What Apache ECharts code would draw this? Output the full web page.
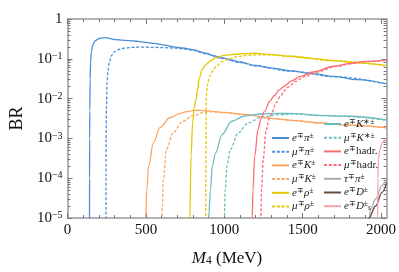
<!DOCTYPE html>
<html><head><meta charset="utf-8">
<script src="https://cdn.jsdelivr.net/npm/echarts@6/dist/echarts.min.js"></script>
<style>html,body{margin:0;padding:0;background:#fff}#c{width:399px;height:272px}</style>
</head><body><div id="c"></div>
<script>
// ---- axis ticks ----
const xTicks = [0, 500, 1000, 1500, 2000];
const xMinorTicks = [100,200,300,400,600,700,800,900,1100,1200,1300,1400,1600,1700,1800,1900];
const yTicks = [1e-5, 1e-4, 1e-3, 1e-2, 1e-1, 1];
const yTickLabels = ['10{e|−5}', '10{e|−4}', '10{e|−3}', '10{e|−2}', '10{e|−1}', '1'];
const yMinorTicks = [];
for (let k = -5; k < 0; k++) for (let m = 2; m <= 9; m++) yMinorTicks.push(m * Math.pow(10, k));

// ---- series data: [M4 (MeV), BR] ----
const ePi = [[140,1e-6],[140.5,1e-4],[141,1e-3],[142,5e-3],[144,0.03],[147,0.08],[152,0.15],[160,0.22],[175,0.28],[195,0.315],[220,0.335],[240,0.34],[260,0.33],[300,0.305],[360,0.29],[424,0.28],[500,0.26],[548,0.245],[620,0.22],[673,0.2],[735,0.187],[800,0.17],[850,0.15],[879,0.138],[930,0.12],[985,0.105],[1050,0.092],[1100,0.083],[1200,0.068],[1300,0.058],[1423,0.05],[1550,0.043],[1700,0.036],[1850,0.03],[2035,0.0235]];
const muPi = [[245,1e-6],[245.5,1e-4],[246,1e-3],[248,6e-3],[252,0.025],[258,0.05],[266,0.08],[280,0.12],[298,0.15],[320,0.17],[360,0.185],[420,0.195],[485,0.196],[548,0.194],[620,0.19],[673,0.186],[735,0.179],[800,0.164],[879,0.134],[985,0.102],[1100,0.081],[1200,0.066],[1423,0.049],[1700,0.0355],[2035,0.0232]];
const eK = [[494,1e-7],[498,1e-5],[506,5.3e-5],[517,2e-4],[548,7.8e-4],[590,1.86e-3],[652,3.3e-3],[715,4.2e-3],[760,4.7e-3],[798,5e-3],[830,5.1e-3],[870,5e-3],[922,4.8e-3],[1000,4.5e-3],[1129,4e-3],[1300,3.2e-3],[1450,2.8e-3],[1610,2.45e-3],[1800,2.15e-3],[2035,1.85e-3]];
const muK = [[599,1e-7],[602,1e-5],[611,9e-5],[631,5.3e-4],[673,1.4e-3],[735,2.7e-3],[798,3.7e-3],[881,4.6e-3],[922,4.7e-3],[1000,4.4e-3],[1129,3.95e-3],[1300,3.15e-3],[1450,2.78e-3],[1610,2.43e-3],[1800,2.13e-3],[2035,1.84e-3]];
const eRho = [[776,1e-7],[780,1e-5],[788,3.6e-4],[798,2.5e-3],[808,6e-3],[819,9.5e-3],[829,0.0166],[840,0.033],[860,0.055],[882,0.071],[910,0.088],[945,0.107],[1000,0.122],[1090,0.132],[1192,0.138],[1300,0.128],[1423,0.116],[1550,0.103],[1700,0.09],[1850,0.079],[2035,0.067]];
const muRho = [[881,1e-7],[882,1e-4],[883,2e-3],[884,8e-3],[886,0.0126],[892,0.022],[905,0.035],[923,0.048],[950,0.066],[985,0.085],[1030,0.1],[1090,0.115],[1150,0.122],[1215,0.126],[1300,0.125],[1423,0.115],[1700,0.089],[2035,0.066]];
const eKst = [[892,1e-7],[900,1e-5],[912,5.3e-5],[923,2e-4],[945,4.4e-4],[985,1.25e-3],[1048,2.7e-3],[1131,3.7e-3],[1235,4.1e-3],[1340,4.25e-3],[1444,4.2e-3],[1610,3.8e-3],[1800,3.6e-3],[2035,2.9e-3]];
const muKst = [[997,1e-7],[1000,1e-5],[1006,5.3e-5],[1017,2e-4],[1038,5.3e-4],[1090,1.4e-3],[1152,2.45e-3],[1235,3.4e-3],[1340,3.9e-3],[1444,4.1e-3],[1610,3.75e-3],[1800,3.55e-3],[2035,2.85e-3]];
const eHadr = [[1176,1e-7],[1178,1e-5],[1183,5.3e-5],[1194,3.6e-4],[1215,1.7e-3],[1235,3.2e-3],[1256,4.8e-3],[1290,8.5e-3],[1318,0.0118],[1350,0.0165],[1380,0.0204],[1430,0.028],[1485,0.036],[1567,0.047],[1700,0.065],[1798,0.076],[1900,0.086],[2035,0.094]];
const muHadr = [[1229,1e-7],[1232,1e-5],[1238,5.3e-5],[1248,3e-4],[1266,1.5e-3],[1284,2.9e-3],[1303,4.5e-3],[1332,8e-3],[1356,0.0112],[1384,0.0158],[1410,0.0196],[1456,0.027],[1506,0.035],[1585,0.046],[1712,0.064],[1807,0.075],[1906,0.085],[2035,0.092]];
const tauPi = [[1917,1e-7],[1925,1e-5],[1934,1.7e-5],[1965,3e-5],[2006,6.5e-5],[2035,1.05e-4]];
const eD = [[1870,1e-8],[1900,2e-6],[1923,1e-5],[1965,2e-5],[2006,4.4e-5],[2035,7.5e-5]];
const eDs = [[1969,1e-8],[1978,1e-5],[1980,1e-4],[1983,3e-4],[1990,5e-4],[2010,8e-4],[2035,1e-3]];

const names = ['eπ','μπ','eK','μK','eρ','μρ','eK*','μK*','ehadr','μhadr','τπ','eD','eDs'];
const labelsRich = {
  'eπ': '{i|e}{s|∓}{i|π}{s|±}', 'μπ': '{i|μ}{s|∓}{i|π}{s|±}',
  'eK': '{i|e}{s|∓}{i|K}{s|±}', 'μK': '{i|μ}{s|∓}{i|K}{s|±}',
  'eρ': '{i|e}{s|∓}{i|ρ}{s|±}', 'μρ': '{i|μ}{s|∓}{i|ρ}{s|±}',
  'eK*': '{i|e}{s|∓}{i|K}{s|∗±}', 'μK*': '{i|μ}{s|∓}{i|K}{s|∗±}',
  'ehadr': '{i|e}{s|∓}{r|hadr.}', 'μhadr': '{i|μ}{s|∓}{r|hadr.}',
  'τπ': '{i|τ}{s|∓}{i|π}{s|±}', 'eD': '{i|e}{s|∓}{i|D}{s|±}',
  'eDs': '{i|e}{s|∓}{i|D}{s|±}{b|s}'
};
const datasets = [ePi, muPi, eK, muK, eRho, muRho, eKst, muKst, eHadr, muHadr, tauPi, eD, eDs];
const colors = ['#4a8fd6','#4a8fd6','#ffa562','#ffa562','#e3c800','#e3c800','#6bbcc0','#6bbcc0','#ff6b73','#ff6b73','#a5aeb5','#6b4a3e','#f3a3ad'];
const dashed = [false,true,false,true,false,true,false,true,false,true,false,false,false];

const FONT = 'Liberation Serif';
const axisColor = '#9a9a9a';
const richText = {
  i: {fontFamily: FONT, fontStyle: 'italic', fontSize: 11, color: '#222', lineHeight: 12},
  r: {fontFamily: FONT, fontSize: 11, color: '#222', lineHeight: 12},
  s: {fontFamily: FONT, fontSize: 7.5, color: '#222', verticalAlign: 'top', lineHeight: 7},
  b: {fontFamily: FONT, fontStyle: 'italic', fontSize: 7.5, color: '#222', verticalAlign: 'bottom', lineHeight: 7}
};

const chart = echarts.init(document.getElementById('c'), null, {renderer: 'canvas'});
const grid = {left: 63, top: 19, right: 11, bottom: 53};
function xAx(pos, custom, len, labels, line, extra) {
  return Object.assign({type: 'value', position: pos, min: 0, max: 2035, gridIndex: 0,
    axisLine: {show: line, onZero: false, lineStyle: {color: axisColor, width: 1.5}},
    axisTick: {show: true, inside: true, length: len, customValues: custom, lineStyle: {color: '#777', width: 1}},
    axisLabel: {show: labels, customValues: custom, fontFamily: FONT, fontSize: 15, color: '#111', margin: 5,
      formatter: v => String(v)},
    splitLine: {show: false}}, extra || {});
}
function yAx(pos, custom, len, labels, line, extra) {
  return Object.assign({type: 'log', logBase: 10, position: pos, min: 1e-5, max: 1, gridIndex: 0,
    axisLine: {show: line, onZero: false, lineStyle: {color: axisColor, width: 1.5}},
    axisTick: {show: true, inside: true, length: len, customValues: custom, lineStyle: {color: '#777', width: 1}},
    axisLabel: {show: labels, customValues: custom, fontFamily: FONT, fontSize: 15, color: '#111', margin: 5,
      formatter: v => yTickLabels[Math.round(Math.log10(v)) + 5],
      rich: {e: {fontFamily: FONT, fontSize: 10, verticalAlign: 'top', lineHeight: 9, color: '#111'}}},
    splitLine: {show: false}}, extra || {});
}

const series = datasets.map((d, k) => ({
  name: names[k], type: 'line', data: d, xAxisIndex: 0, yAxisIndex: 0,
  symbol: 'none', smooth: 0.35, smoothMonotone: 'x', clip: true,
  lineStyle: {color: colors[k], width: 1.3, type: dashed[k] ? [3, 1.8] : 'solid'},
  itemStyle: {color: colors[k]}, z: 3
}));

const legendBase = {orient: 'vertical', itemWidth: 17, itemHeight: 8, itemGap: 2.2,
  formatter: n => labelsRich[n], textStyle: {rich: richText, padding: [0,0,0,-2]}, selectedMode: false,
  itemStyle: {opacity: 0, color: 'rgba(0,0,0,0)', borderWidth: 0}};

chart.setOption({
  animation: false,
  backgroundColor: '#fff',
  grid: grid,
  xAxis: [
    xAx('bottom', xTicks, 5, true, true, {name: '{m|M}{sub|4} (MeV)', nameLocation: 'middle', nameGap: 32,
      nameTextStyle: {fontFamily: FONT, fontSize: 17, color: '#111',
        rich: {m: {fontFamily: FONT, fontStyle: 'italic', fontSize: 17, color: '#111'}, sub: {fontFamily: FONT, fontSize: 11.5, verticalAlign: 'bottom', lineHeight: 10, color: '#111'}}}}),
    xAx('bottom', xMinorTicks, 3, false, false),
    xAx('top', xTicks, 5, false, true),
    xAx('top', xMinorTicks, 3, false, false)
  ],
  yAxis: [
    yAx('left', yTicks, 5, true, true, {name: 'BR', nameLocation: 'middle', nameGap: 39, nameRotate: 90,
      nameTextStyle: {fontFamily: FONT, fontSize: 18, color: '#111'}}),
    yAx('left', yMinorTicks, 3, false, false),
    yAx('right', yTicks, 5, false, true),
    yAx('right', yMinorTicks, 3, false, false)
  ],
  legend: [
    Object.assign({data: names.slice(0, 6), left: 266, top: 127}, legendBase),
    Object.assign({data: names.slice(6), left: 318, top: 113}, legendBase)
  ],
  series: series
});
</script></body></html>
